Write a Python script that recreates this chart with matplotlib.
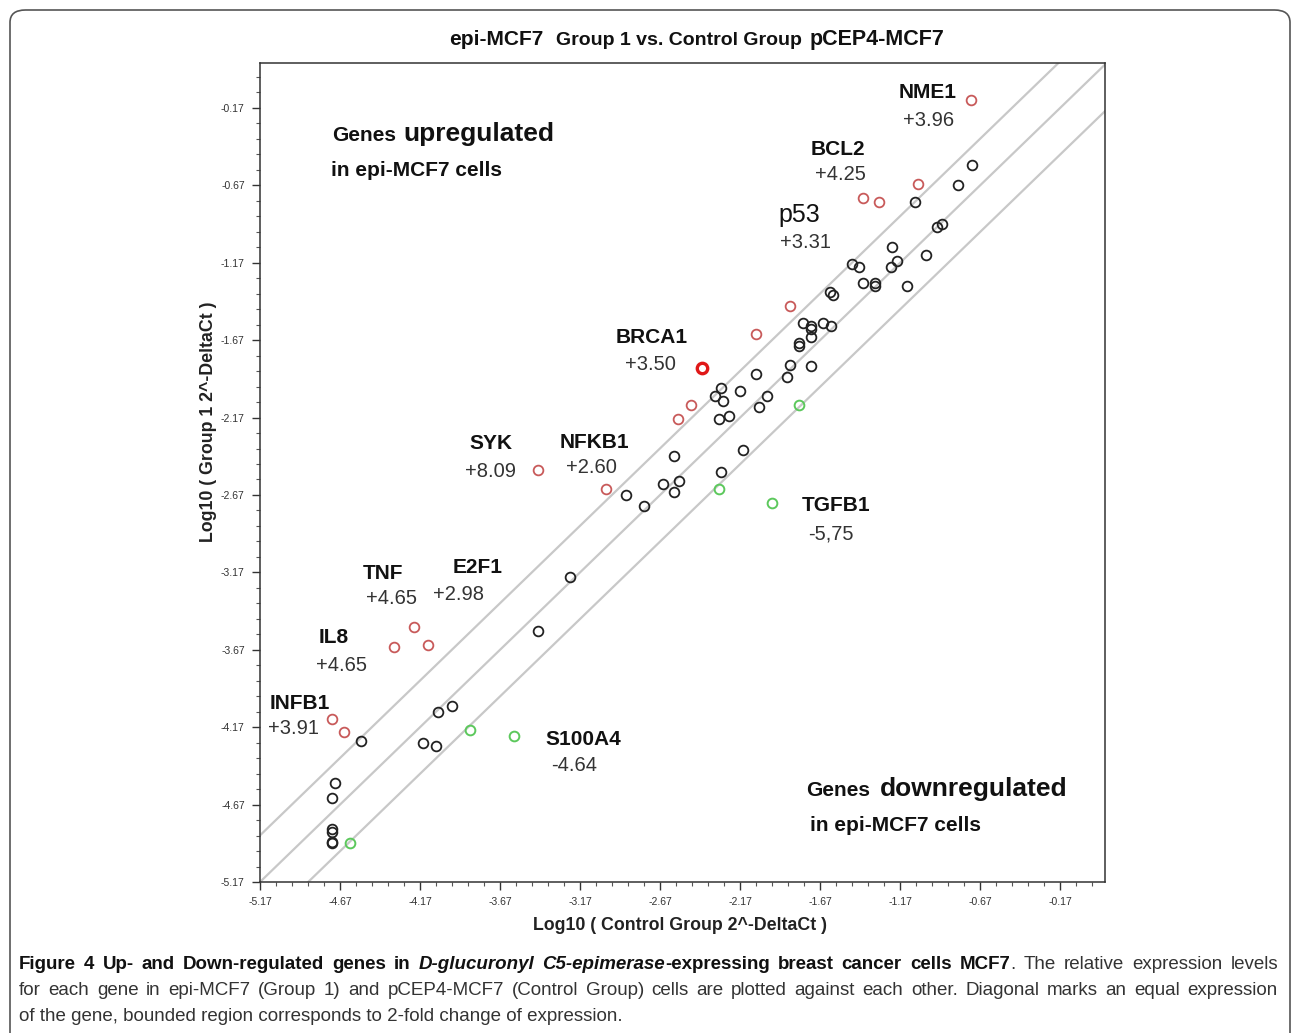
import numpy as np
import matplotlib
matplotlib.use("Agg")
import matplotlib.pyplot as plt
from matplotlib.patches import FancyBboxPatch

W, H = 1292, 1033
CHART_FONT = ["Liberation Sans", "DejaVu Sans"]
CAPTION_FONT = ["Liberation Sans", "DejaVu Sans"]

# log10(2^-DeltaCt): control group pCEP4-MCF7 (x) vs. group 1 epi-MCF7 (y)
unchanged_x = [-0.72, -0.81, -1.08, -0.94, -0.91, -1.22, -1.19, -1.23, -1.01, -1.47,
               -1.43, -1.40, -1.33, -1.33, -1.13, -1.61, -1.59, -1.78, -1.73, -1.73,
               -1.65, -1.60, -1.73, -1.80, -1.80, -1.86, -1.88, -1.73, -2.07, -2.17,
               -2.29, -2.33, -2.28, -2.00, -2.05, -2.30, -2.24, -2.58, -2.15, -2.29,
               -2.65, -2.55, -2.58, -2.88, -2.77, -3.23, -3.43, -4.06, -3.97, -4.54,
               -4.15, -4.07, -4.70, -4.72, -4.72, -4.72, -4.72, -4.72]
unchanged_y = [-0.54, -0.67, -0.78, -0.94, -0.92, -1.07, -1.16, -1.20, -1.12, -1.18,
               -1.20, -1.30, -1.30, -1.32, -1.32, -1.36, -1.38, -1.56, -1.58, -1.60,
               -1.56, -1.58, -1.65, -1.69, -1.71, -1.83, -1.91, -1.84, -1.89, -2.00,
               -1.98, -2.03, -2.06, -2.03, -2.10, -2.18, -2.16, -2.42, -2.38, -2.52,
               -2.60, -2.58, -2.65, -2.67, -2.74, -3.20, -3.55, -4.07, -4.03, -4.26,
               -4.27, -4.29, -4.53, -4.63, -4.83, -4.85, -4.91, -4.92]

up_x = [-0.73, -1.06, -1.40, -1.30, -1.86, -2.07, -2.48, -2.56, -3.43, -3.01,
        -4.21, -4.33, -4.12, -4.72, -4.645]
up_y = [-0.12, -0.66, -0.75, -0.78, -1.45, -1.63, -2.09, -2.18, -2.51, -2.63,
        -3.52, -3.65, -3.64, -4.12, -4.20]

brca1_x = [-2.41]
brca1_y = [-1.85]

down_x = [-1.80, -2.30, -1.97, -3.58, -3.86, -4.61]
down_y = [-2.09, -2.63, -2.72, -4.23, -4.19, -4.92]

tick_values = [-5.17, -4.67, -4.17, -3.67, -3.17, -2.67, -2.17, -1.67, -1.17, -0.67, -0.17]
fold_band = np.log10(2)

# gene name, fold change, name position, value position (data coords)
gene_names = ["NME1", "BCL2", "p53", "BRCA1", "SYK", "NFKB1", "TNF", "E2F1",
              "IL8", "INFB1", "TGFB1", "S100A4"]
gene_values = ["+3.96", "+4.25", "+3.31", "+3.50", "+8.09", "+2.60", "+4.65", "+2.98",
               "+4.65", "+3.91", "-5,75", "-4.64"]
name_pos = [(-1.00, -0.07), (-1.56, -0.44), (-1.80, -0.86), (-2.72, -1.65),
            (-3.73, -2.34), (-3.08, -2.33), (-4.40, -3.18), (-3.81, -3.14),
            (-4.71, -3.59), (-4.92, -4.02), (-1.57, -2.74), (-3.15, -4.25)]
value_pos = [(-0.99, -0.25), (-1.545, -0.60), (-1.76, -1.04), (-2.73, -1.83),
             (-3.73, -2.52), (-3.10, -2.49), (-4.35, -3.34), (-3.93, -3.31),
             (-4.66, -3.77), (-4.96, -4.18), (-1.60, -2.92), (-3.21, -4.42)]


def draw_runs(fig, x_px, y_px, runs, ha="left"):
    """Draw text pieces one after another on a baseline, positions in figure pixels."""
    renderer = fig.canvas.get_renderer()
    texts = []
    cur = x_px
    for s, gap, kw in runs:
        cur += gap
        t = fig.text(cur / W, 1 - y_px / H, s, va="baseline", ha="left", **kw)
        cur = t.get_window_extent(renderer).x1
        texts.append(t)
    if ha == "center":
        shift = (cur - x_px) / 2
        for t in texts:
            px, py = t.get_position()
            t.set_position((px - shift / W, py))
    return texts


def draw_justified(fig, x0, x1, y_px, words):
    """words: list of (text, style, glued_to_previous). Spread to fill x0..x1."""
    renderer = fig.canvas.get_renderer()
    texts, widths = [], []
    for s, kw, _ in words:
        t = fig.text(0, 1 - y_px / H, s, va="baseline", ha="left", **kw)
        texts.append(t)
        widths.append(t.get_window_extent(renderer).width)
    n_gaps = sum(1 for i, w in enumerate(words) if i > 0 and not w[2])
    gap = (x1 - x0 - sum(widths)) / max(n_gaps, 1)
    cur = x0
    for i, (t, w) in enumerate(zip(texts, widths)):
        if i > 0 and not words[i][2]:
            cur += gap
        t.set_x(cur / W)
        cur += w


fig = plt.figure(figsize=(W / 100, H / 100), dpi=100)
fig.patch.set_facecolor("white")

frame = FancyBboxPatch((10 / W, -0.05), 1280 / W, 1 - 10 / H + 0.05,
                       boxstyle="round,pad=0,rounding_size=0.012",
                       transform=fig.transFigure, facecolor="none",
                       edgecolor="#555555", linewidth=1.2)
fig.patches.append(frame)

ax = fig.add_axes([260 / W, 1 - 882 / H, 845 / W, 819 / H])
ax.set_xlim(-5.17, 0.11)
ax.set_ylim(-5.17, 0.12)

for off in (fold_band, 0.0, -fold_band):
    ax.axline((0, off), slope=1, color="#c8c8c8", lw=1.6, zorder=1)

ax.plot(unchanged_x, unchanged_y, "o", ms=7, mfc="none", mec="#222222", mew=1.3, zorder=3)
ax.plot(up_x, up_y, "o", ms=7, mfc="none", mec="#c85a5a", mew=1.3, zorder=3)
ax.plot(brca1_x, brca1_y, "o", ms=7.5, mfc="none", mec="#e01818", mew=2.4, zorder=3)
ax.plot(down_x, down_y, "o", ms=7, mfc="none", mec="#5cc85c", mew=1.4, zorder=3)

for name, val, (nx, ny), (vx, vy) in zip(gene_names, gene_values, name_pos, value_pos):
    size = 18 if name == "p53" else 15
    weight = "normal" if name == "p53" else "bold"
    ax.text(nx, ny, name, ha="center", va="center", fontsize=size,
            fontweight=weight, family=CHART_FONT, color="#111111")
    ax.text(vx, vy, val, ha="center", va="center", fontsize=14.5,
            family=CHART_FONT, color="#333333")

ax.set_xticks(tick_values)
ax.set_yticks(tick_values)
ax.set_xticklabels([f"{v:.2f}" for v in tick_values])
ax.set_yticklabels([f"{v:.2f}" for v in tick_values])
ax.set_xticks(np.arange(-5.17, 0.1, 0.1), minor=True)
ax.set_yticks(np.arange(-5.17, 0.1, 0.1), minor=True)
ax.tick_params(which="major", length=6, width=1, color="#333333",
               labelsize=7.5, labelcolor="#333333", pad=5)
ax.tick_params(which="minor", length=3, width=0.8, color="#555555")
for lab in ax.get_xticklabels() + ax.get_yticklabels():
    lab.set_family(CHART_FONT)
for sp in ax.spines.values():
    sp.set_color("#333333")
    sp.set_linewidth(1.1)

ax.set_xlabel("Log10 ( Control Group 2^-DeltaCt )", fontsize=12.8, fontweight="bold",
              family=CHART_FONT, color="#222222")
ax.set_ylabel("Log10 ( Group 1 2^-DeltaCt )", fontsize=12.8, fontweight="bold",
              family=CHART_FONT, color="#222222")
ax.xaxis.set_label_coords((680 - 260) / 845, (882 - 917) / 819)
ax.yaxis.set_label_coords((217 - 260) / 845, (882 - 422) / 819)

fig.canvas.draw()

# region notes
bold = dict(fontweight="bold", family=CHART_FONT, color="#111111")
draw_runs(fig, 332, 141, [("Genes", 0, dict(fontsize=15, **bold)),
                          ("upregulated", 7, dict(fontsize=19, **bold))])
draw_runs(fig, 331, 176, [("in epi-MCF7 cells", 0, dict(fontsize=15, **bold))])
draw_runs(fig, 806, 796, [("Genes", 0, dict(fontsize=15, **bold)),
                          ("downregulated", 10, dict(fontsize=19, **bold))])
draw_runs(fig, 810, 831, [("in epi-MCF7 cells", 0, dict(fontsize=15, **bold))])

# title
draw_runs(fig, 697, 45, [("epi-MCF7", 0, dict(fontsize=15, **bold)),
                         ("Group 1 vs. Control Group", 12, dict(fontsize=14, **bold)),
                         ("pCEP4-MCF7", 8, dict(fontsize=15.5, **bold))], ha="center")

# caption
cb = dict(fontsize=13.5, family=CAPTION_FONT, color="#111111", fontweight="bold")
cbi = dict(cb, fontstyle="italic")
cn = dict(fontsize=13.5, family=CAPTION_FONT, color="#333333")

line1 = [(w, cb, False) for w in "Figure 4 Up- and Down-regulated genes in".split()]
line1 += [("D-glucuronyl", cbi, False), ("C5-epimerase", cbi, False),
          ("-expressing", cb, True)]
line1 += [(w, cb, False) for w in "breast cancer cells MCF7".split()]
line1 += [(".", cn, True)]
line1 += [(w, cn, False) for w in "The relative expression levels".split()]
line2 = [(w, cn, False) for w in ("for each gene in epi-MCF7 (Group 1) and pCEP4-MCF7 (Control Group) "
                                  "cells are plotted against each other. Diagonal marks an equal "
                                  "expression").split()]
draw_justified(fig, 19, 1278, 969, line1)
draw_justified(fig, 19, 1278, 995, line2)
draw_runs(fig, 19, 1021, [("of the gene, bounded region corresponds to 2-fold change of expression.",
                           0, cn)])

fig.savefig("out.png", dpi=100)
